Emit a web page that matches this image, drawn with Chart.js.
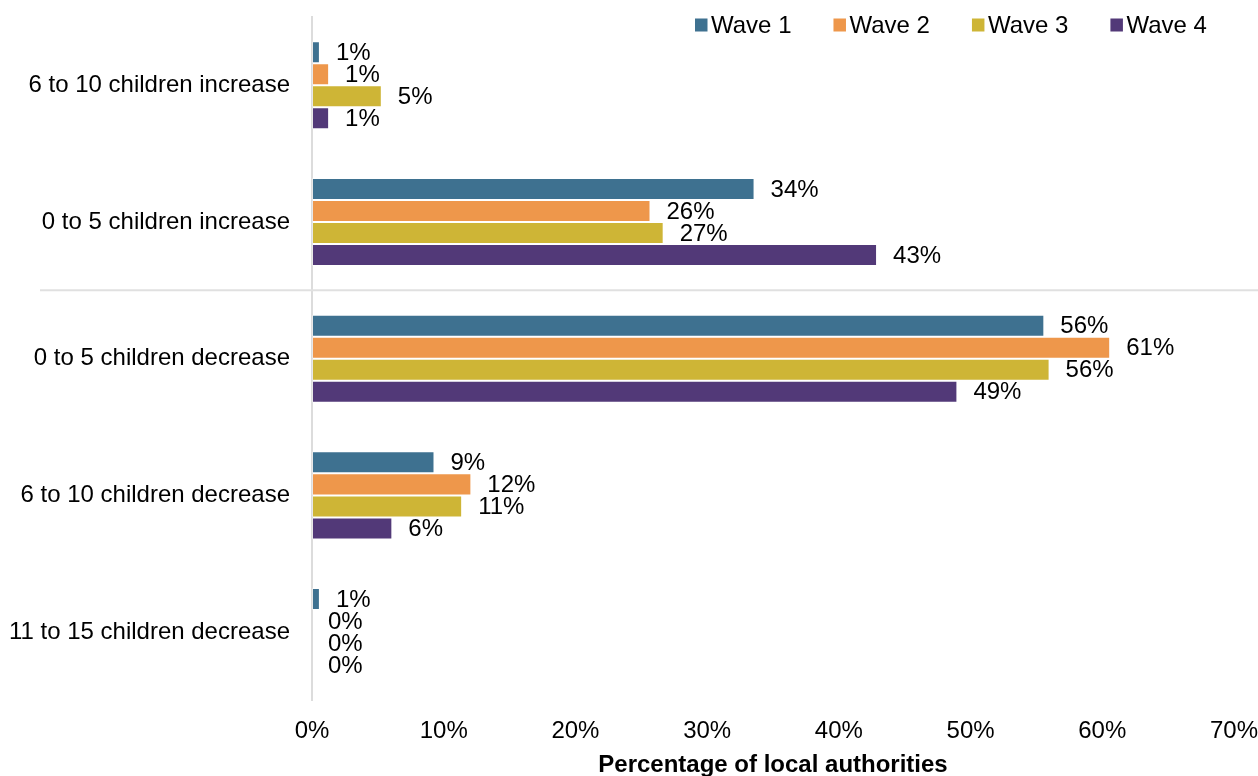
<!DOCTYPE html>
<html>
<head>
<meta charset="utf-8">
<script src="https://cdn.jsdelivr.net/npm/chart.js@4.4.1/dist/chart.umd.min.js"></script>
<style>
html,body{margin:0;padding:0;background:#fff;}
#wrap{position:relative;width:1258px;height:776px;}
</style>
</head>
<body>
<div id="wrap"><canvas id="changeChart"></canvas></div>
<script>

const categories = [
"6 to 10 children increase",
"0 to 5 children increase",
"0 to 5 children decrease",
"6 to 10 children decrease",
"11 to 15 children decrease"
];

const waveNames = ["Wave 1","Wave 2","Wave 3","Wave 4"];

// percentage of local authorities per wave
const wave1 = [0.6, 33.6, 55.6, 9.3, 0.6];
const wave2 = [1.3, 25.7, 60.6, 12.1, 0];
const wave3 = [5.3, 26.7, 56.0, 11.4, 0];
const wave4 = [1.3, 42.9, 49.0, 6.1, 0];

const xTicks = [0,10,20,30,40,50,60,70];

const colours = ["#3e7190","#ee974b","#ceb536","#523978"];

const FONT = "'Liberation Sans', Arial, sans-serif";

function pct(v){
return Math.round(v) + "%";
}

// value labels just past the end of each bar
const valueLabels = {
id:"valueLabels",
afterDatasetsDraw(chart){
const ctx = chart.ctx;
ctx.save();
ctx.font = "24px " + FONT;
ctx.fillStyle = "#000";
ctx.textAlign = "left";
ctx.textBaseline = "middle";
chart.data.datasets.forEach((ds,i)=>{
chart.getDatasetMeta(i).data.forEach((bar,j)=>{
ctx.fillText(pct(ds.data[j]), bar.x + 16, bar.y + 1);
});
});
ctx.restore();
}
};

// rule between the increase and decrease groups
const groupRule = {
id:"groupRule",
beforeDatasetsDraw(chart){
const y = chart.scales.y;
const yy = (y.getPixelForValue(1) + y.getPixelForValue(2)) / 2;
const ctx = chart.ctx;
ctx.save();
ctx.strokeStyle = "#e0e0e0";
ctx.lineWidth = 2;
ctx.beginPath();
ctx.moveTo(40, yy);
ctx.lineTo(chart.width, yy);
ctx.stroke();
ctx.restore();
}
};

// legend in a single row over the top right of the plot
const topLegend = {
id:"topLegend",
afterDraw(chart){
const ctx = chart.ctx;
ctx.save();
ctx.font = "24px " + FONT;
ctx.textBaseline = "middle";
ctx.textAlign = "left";
let x = 695;
const cy = 25;
chart.data.datasets.forEach(ds=>{
ctx.fillStyle = ds.backgroundColor;
ctx.fillRect(x, cy - 6.5, 12.5, 13);
ctx.fillStyle = "#000";
ctx.fillText(ds.label, x + 16, cy + 1);
x += 16 + ctx.measureText(ds.label).width + 42;
});
ctx.restore();
}
};

const seriesData = [wave1, wave2, wave3, wave4];

new Chart(document.getElementById("changeChart"),{
type:"bar",
data:{
labels:categories,
datasets:waveNames.map((name,i)=>({
label:name,
data:seriesData[i],
backgroundColor:colours[i],
borderColor:"rgba(255,255,255,0.35)",
borderWidth:1,
borderSkipped:false,
barPercentage:1,
categoryPercentage:0.644
}))
},
options:{
indexAxis:"y",
responsive:true,
maintainAspectRatio:false,
animation:false,
layout:{padding:{top:17,left:0,right:0,bottom:0}},
plugins:{
legend:{display:false},
tooltip:{enabled:false}
},
scales:{
x:{
min:0,
max:70,
afterBuildTicks(scale){
scale.ticks = xTicks.map(v=>({value:v}));
},
afterFit(scale){
scale.paddingLeft = 0;
scale.paddingRight = 24;
},
ticks:{
callback:v=>v + "%",
font:{family:FONT,size:24},
color:"#000",
padding:17,
maxRotation:0
},
grid:{display:false,drawTicks:false},
border:{display:false},
title:{
display:true,
text:"Percentage of local authorities",
font:{family:FONT,size:24,weight:"bold"},
color:"#000",
padding:{top:-12,bottom:-4}
}
},
y:{
afterFit(scale){
scale.width = 312;
scale.paddingTop = 0;
scale.paddingBottom = 0;
},
ticks:{
font:{family:FONT,size:24},
color:"#000",
padding:22
},
grid:{display:false,drawTicks:false},
border:{display:true,color:"#dcdcdc",width:2}
}
}
},
plugins:[groupRule, valueLabels, topLegend]
});

</script>
</body>
</html>
